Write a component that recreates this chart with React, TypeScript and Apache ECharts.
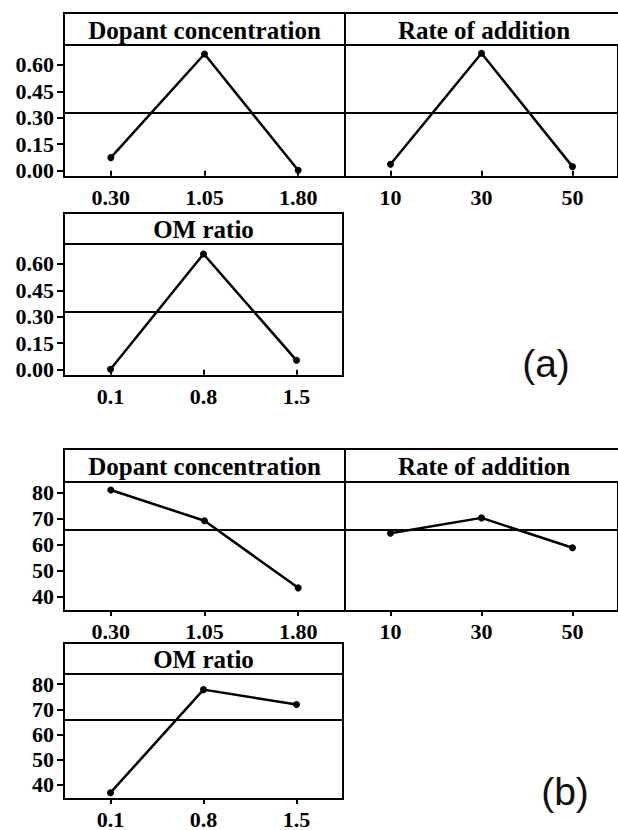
import React, { useEffect, useRef } from "react";
import * as echarts from "echarts";

// Factor levels
const dopantLevels = ["0.30", "1.05", "1.80"];
const rateLevels = ["10", "30", "50"];
const omLevels = ["0.1", "0.8", "1.5"];

// (a) level means
const aDopant = [0.074, 0.662, 0.002];
const aRate = [0.036, 0.666, 0.023];
const aOm = [0.002, 0.656, 0.053];
const aMean = 0.326;
const aTicks = [0, 0.15, 0.3, 0.45, 0.6];

// (b) level means
const bDopant = [80.9, 69.1, 43.3];
const bRate = [64.3, 70.2, 58.7];
const bOm = [36.9, 77.8, 71.9];
const bMean = 65.7;
const bTicks = [40, 50, 60, 70, 80];

const SERIF = "Liberation Serif";
const SANS = "Liberation Sans";

type Panel = {
  title: string;
  levels: string[];
  values: number[];
  mean: number;
  ticks: number[];
  min: number;
  max: number;
  digits: number;
  left: number;
  top: number;
  width: number;
  height: number;
  headerTop: number;
};

const panels: Panel[] = [
  { title: "Dopant concentration", levels: dopantLevels, values: aDopant, mean: aMean, ticks: aTicks, min: -0.036, max: 0.713, digits: 2, left: 64, top: 45, width: 281, height: 132, headerTop: 13 },
  { title: "Rate of addition", levels: rateLevels, values: aRate, mean: aMean, ticks: aTicks, min: -0.036, max: 0.713, digits: 2, left: 345, top: 45, width: 278, height: 132, headerTop: 13 },
  { title: "OM ratio", levels: omLevels, values: aOm, mean: aMean, ticks: aTicks, min: -0.036, max: 0.713, digits: 2, left: 64, top: 244, width: 279, height: 132, headerTop: 213 },
  { title: "Dopant concentration", levels: dopantLevels, values: bDopant, mean: bMean, ticks: bTicks, min: 34.4, max: 84.0, digits: 0, left: 64, top: 482, width: 281, height: 129, headerTop: 449 },
  { title: "Rate of addition", levels: rateLevels, values: bRate, mean: bMean, ticks: bTicks, min: 34.4, max: 84.0, digits: 0, left: 345, top: 482, width: 278, height: 129, headerTop: 449 },
  { title: "OM ratio", levels: omLevels, values: bOm, mean: bMean, ticks: bTicks, min: 34.4, max: 84.0, digits: 0, left: 64, top: 674, width: 279, height: 129, headerTop: 643 },
];

function buildOption(): echarts.EChartsCoreOption {
  const grid: any[] = [];
  const xAxis: any[] = [];
  const yAxis: any[] = [];
  const series: any[] = [];
  const graphic: any[] = [];

  panels.forEach((p, i) => {
    const showY = p.left < 100;
    grid.push({
      left: p.left,
      top: p.top,
      width: p.width,
      height: p.height,
      show: true,
      borderColor: "#000",
      borderWidth: 2,
      backgroundColor: "transparent",
    });
    xAxis.push({
      type: "category",
      gridIndex: i,
      data: p.levels,
      boundaryGap: true,
      axisLine: { show: false },
      axisTick: { show: true, alignWithLabel: true, length: 5, lineStyle: { color: "#000", width: 2 } },
      axisLabel: { color: "#000", fontFamily: SERIF, fontWeight: "bold", fontSize: 22, margin: 9 },
      splitLine: { show: false },
    });
    yAxis.push({
      type: "value",
      gridIndex: i,
      min: p.min,
      max: p.max,
      axisLine: { show: false },
      axisTick: { show: showY, length: 7, customValues: p.ticks, lineStyle: { color: "#000", width: 2 } },
      axisLabel: {
        show: showY,
        customValues: p.ticks,
        color: "#000",
        fontFamily: SERIF,
        fontWeight: "bold",
        fontSize: 22,
        margin: 10,
        formatter: (v: number) => v.toFixed(p.digits),
      },
      splitLine: { show: false },
    });
    series.push({
      type: "line",
      xAxisIndex: i,
      yAxisIndex: i,
      data: p.values,
      symbol: "circle",
      symbolSize: 7,
      lineStyle: { color: "#000", width: 2.5 },
      itemStyle: { color: "#000" },
      markLine: {
        silent: true,
        symbol: "none",
        label: { show: false },
        lineStyle: { color: "#000", width: 2, type: "solid" },
        data: [{ yAxis: p.mean }],
      },
    });
    // header band with the factor name
    graphic.push({
      type: "rect",
      shape: { x: p.left, y: p.headerTop, width: p.width, height: p.top - p.headerTop },
      style: { fill: "none", stroke: "#000", lineWidth: 2 },
    });
    graphic.push({
      type: "text",
      x: p.left + p.width / 2,
      y: (p.headerTop + p.top) / 2 + 1,
      style: {
        text: p.title,
        fill: "#000",
        fontFamily: SERIF,
        fontWeight: "bold",
        fontSize: 25,
        textAlign: "center",
        textVerticalAlign: "middle",
      },
    });
  });

  graphic.push({
    type: "text",
    x: 546,
    y: 363,
    style: { text: "(a)", fill: "#111", fontFamily: SANS, fontSize: 39, textAlign: "center", textVerticalAlign: "middle" },
  });
  graphic.push({
    type: "text",
    x: 565,
    y: 791,
    style: { text: "(b)", fill: "#111", fontFamily: SANS, fontSize: 39, textAlign: "center", textVerticalAlign: "middle" },
  });

  return {
    animation: false,
    backgroundColor: "#fff",
    grid,
    xAxis,
    yAxis,
    series,
    graphic,
  };
}

export default function App() {
  const ref = useRef<HTMLDivElement>(null);
  useEffect(() => {
    if (!ref.current) return;
    const chart = echarts.init(ref.current, undefined, { renderer: "svg" });
    chart.setOption(buildOption());
    return () => chart.dispose();
  }, []);
  return (
    <div
      ref={ref}
      style={{ position: "fixed", left: 0, top: 0, width: 618, height: 830, background: "#fff" }}
    />
  );
}
